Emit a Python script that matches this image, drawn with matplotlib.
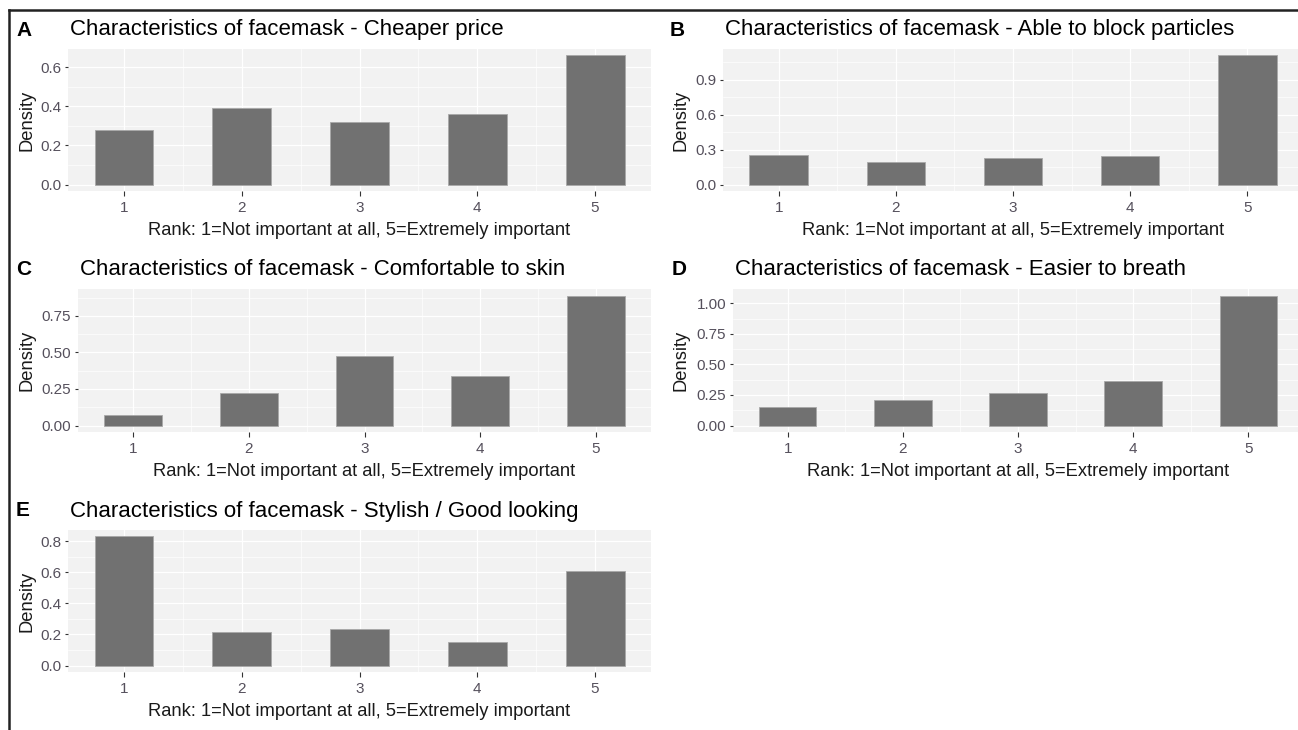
import numpy as np
import matplotlib
matplotlib.use("Agg")
import matplotlib.pyplot as plt
from matplotlib.lines import Line2D
from matplotlib.ticker import FixedLocator

plt.rcParams['font.family'] = ['Liberation Sans', 'DejaVu Sans']

W, H = 1298, 730

# data (density per rank, binwidth 0.5)
ranks = [1, 2, 3, 4, 5]
cheaper_price = [0.277, 0.391, 0.322, 0.361, 0.660]
block_particles = [0.254, 0.197, 0.231, 0.242, 1.108]
comfortable_skin = [0.074, 0.225, 0.473, 0.338, 0.890]
easier_breath = [0.149, 0.211, 0.270, 0.362, 1.065]
stylish = [0.830, 0.213, 0.236, 0.149, 0.606]

titles = ["Characteristics of facemask - Cheaper price",
          "Characteristics of facemask - Able to block particles",
          "Characteristics of facemask - Comfortable to skin",
          "Characteristics of facemask - Easier to breath",
          "Characteristics of facemask - Stylish / Good looking"]
letters = ["A", "B", "C", "D", "E"]
yticks = [[0, 0.2, 0.4, 0.6],
          [0, 0.3, 0.6, 0.9],
          [0, 0.25, 0.5, 0.75],
          [0, 0.25, 0.5, 0.75, 1.0],
          [0, 0.2, 0.4, 0.6, 0.8]]
ylabfmt = ["%.1f", "%.1f", "%.2f", "%.2f", "%.1f"]
series = [cheaper_price, block_particles, comfortable_skin, easier_breath, stylish]

# panel boxes in pixels: left, top, right, bottom
boxes = [(68, 49, 651, 191), (723, 49, 1303, 191),
         (78, 289, 651, 432), (733, 289, 1303, 432),
         (68, 530, 651, 672)]
letter_x = [16, 670, 16, 672, 16]
ylab_x = [27, 681, 27, 681, 27]

fig = plt.figure(figsize=(W/100, H/100), dpi=100)

for i in range(5):
    l, t, r, b = boxes[i]
    ax = fig.add_axes([l/W, 1-b/H, (r-l)/W, (b-t)/H])
    vals = series[i]
    ymax = max(vals)
    ax.set_facecolor('#F2F2F2')
    ax.bar(ranks, vals, width=0.5, color='#717171', edgecolor='#a8a8a8', linewidth=0.6, zorder=3)
    ax.set_xlim(0.525, 5.475)
    ax.set_ylim(-0.05*ymax, 1.05*ymax)
    yt = yticks[i]
    ax.set_yticks(yt)
    ax.set_yticklabels([ylabfmt[i] % v for v in yt])
    ax.set_xticks(ranks)
    ax.set_xticklabels([str(x) for x in ranks])
    step = yt[1] - yt[0]
    minor_y = [v + step/2 for v in yt]
    ax.yaxis.set_minor_locator(FixedLocator([m for m in minor_y if m < 1.05*ymax]))
    ax.xaxis.set_minor_locator(FixedLocator([1.5, 2.5, 3.5, 4.5]))
    ax.grid(which='major', color='white', linewidth=0.85, zorder=0)
    ax.grid(which='minor', color='white', linewidth=0.45, zorder=0)
    ax.set_axisbelow(True)
    for s in ax.spines.values():
        s.set_visible(False)
    ax.tick_params(which='major', length=2.5, width=0.8, color='#333333',
                   labelcolor='#55505c', labelsize=11, pad=2.5)
    ax.tick_params(axis='x', which='major', length=3.5, pad=3.5)
    ax.tick_params(which='minor', length=0)
    ax.set_xlabel("Rank: 1=Not important at all, 5=Extremely important",
                  fontsize=13.2, color='#1a1a1a', labelpad=5)
    fig.text(ylab_x[i]/W, 1-((t+b)/2)/H, "Density", rotation=90, fontsize=13.2,
             color='#1a1a1a', ha='center', va='center')
    fig.text((l+2)/W, 1-(t-19)/H, titles[i], fontsize=16, color='black',
             ha='left', va='center')
    fig.text(letter_x[i]/W, 1-(t-19)/H, letters[i], fontsize=15, fontweight='bold',
             ha='left', va='center')

# outer frame (left and top edges)
fig.add_artist(Line2D([8.5/W, 8.5/W], [0, 1-10/H], color='#222222', linewidth=1.8))
fig.add_artist(Line2D([8.5/W, 1], [1-10/H, 1-10/H], color='#222222', linewidth=1.8))

plt.savefig("out.png", dpi=100)
